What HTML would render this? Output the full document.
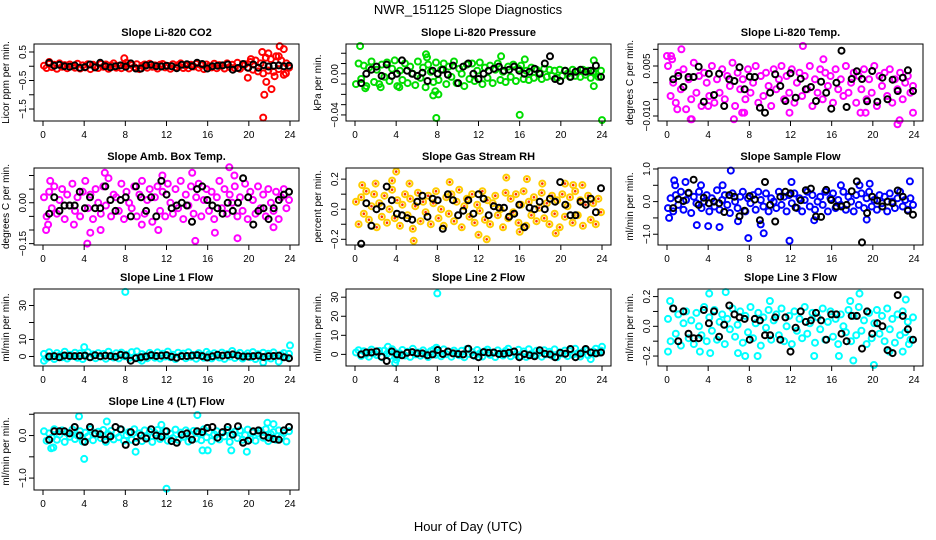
<!DOCTYPE html>
<html><head><meta charset="utf-8">
<style>
html,body{margin:0;padding:0;background:#fff;}
svg{display:block;font-family:"Liberation Sans",sans-serif;}
</style></head>
<body>
<svg id="chart" width="936" height="540" viewBox="0 0 936 540" xmlns="http://www.w3.org/2000/svg">
<text x="468" y="14" font-size="13" text-anchor="middle">NWR_151125  Slope Diagnostics</text>
<text x="468" y="531" font-size="13" text-anchor="middle">Hour of Day (UTC)</text>
</svg>
<script>
const xTicks=[0,4,8,12,16,20,24];
const titles=["Slope Li-820 CO2","Slope Li-820 Pressure","Slope Li-820 Temp.","Slope Amb. Box Temp.","Slope Gas Stream RH","Slope Sample Flow","Slope Line 1 Flow","Slope Line 2 Flow","Slope Line 3 Flow","Slope Line 4 (LT) Flow"];
const yLabels=["Licor ppm per min.","kPa per min.","degrees C per min.","degrees C per min.","percent per min.","ml/min per min.","ml/min per min.","ml/min per min.","ml/min per min.","ml/min per min."];
const yTicks=[[0.5,0,-0.5,-1,-1.5],[0.02,0.01,0,-0.01,-0.02,-0.03,-0.04],[0.01,0.005,0,-0.005,-0.01],[0.1,0.05,0,-0.05,-0.1,-0.15],[0.2,0.1,0,-0.1,-0.2],[1,0.5,0,-0.5,-1],[0,10,20,30],[0,10,20,30],[0.2,0.1,0,-0.1,-0.2],[0.5,0,-0.5,-1]];
const yTickLabels=[{"0.5":"0.5","-0.5":"\u22120.5","-1.5":"\u22121.5"},{"0":"0.00","-0.04":"\u22120.04"},{"0.005":"0.005","-0.01":"\u22120.010"},{"0":"0.00","-0.15":"\u22120.15"},{"0.2":"0.2","0":"0.0","-0.2":"\u22120.2"},{"1":"1.0","0":"0.0","-1":"\u22121.0"},{"0":"0","10":"10","30":"30"},{"0":"0","10":"10","20":"20","30":"30"},{"0.2":"0.2","0":"0.0","-0.2":"\u22120.2"},{"0":"0.0","-1":"\u22121.0"}];
const yLims=[[-1.92,0.78],[-0.0459,0.029],[-0.0115,0.0116],[-0.155,0.1275],[-0.238,0.274],[-1.33,1.03],[-5.6,39.7],[-6.1,34.3],[-0.267,0.251],[-1.28,0.53]];
const colors=["#ff0000","#00dd00","#ff00ff","#ff00ff","#ffcc00","#0000ff","#00ffff","#00ffff","#00ffff","#00ffff"];

const co2Col=[0.02,-0.06,0.08,-0.03,0.05,-0.09,0.1,-0.02,0.04,-0.07,0.06,0.01,-0.05,0.09,-0.08,0.03,-0.04,0.07,-0.1,0.05,0.0,-0.06,0.08,-0.02,0.06,-0.09,0.03,0.1,-0.05,0.02,-0.07,0.05,0.12,-0.08,0.04,-0.03,0.07,-0.1,0.02,0.06,-0.05,0.09,-0.02,0.03,-0.08,0.05,0.08,-0.04,0.01,-0.09,0.07,-0.03,0.04,0.1,-0.06,0.02,-0.07,0.05,-0.01,0.08,-0.05,0.03,-0.1,0.06,0.0,-0.04,0.09,-0.07,0.04,0.02,-0.08,0.1,-0.03,0.05,-0.06,0.12,-0.09,0.03,0.07,-0.05,0.15,-0.12,0.2,-0.18,0.1,-0.25,0.3,-0.15,0.25,-0.2,0.35,-0.1,0.2,-0.3,0.1,-0.05];
const co2OutX=[0.6,7.9,19.9,20.2,21.3,21.4,21.5,21.7,22.2,22.5,23.0,23.4,21.9,22.9,23.6];
const co2OutY=[0.15,0.28,-0.4,0.25,0.5,-1.8,-1.0,-0.55,-0.8,-0.35,0.7,0.6,0.45,0.35,-0.25];
const co2Blk=[0.12,0.02,0.05,0.0,-0.02,0.03,-0.05,-0.03,0.06,-0.04,0.12,0.0,-0.04,0.0,0.03,-0.02,0.1,-0.08,-0.08,0.03,0.05,0.0,-0.01,0.02,0.0,-0.07,0.05,0.07,0.0,0.12,0.08,-0.08,0.0,0.02,0.03,0.06,-0.12,-0.06,0.08,-0.05,0.06,-0.05,0.04,-0.01,0.02,0.03,0.0,0.02];

const presCol=[-0.01,0.01,-0.005,0.008,-0.012,0.006,0.012,-0.008,0.004,-0.01,0.009,-0.003,0.011,-0.007,0.005,0.013,-0.012,0.003,-0.006,0.01,-0.009,0.007,0.0,-0.011,0.012,-0.004,0.006,-0.013,0.009,0.002,-0.008,0.011,-0.006,0.004,0.01,-0.01,0.007,-0.003,0.012,-0.009,0.005,0.0,-0.012,0.009,-0.005,0.01,-0.007,0.003,0.011,-0.01,0.006,-0.004,0.008,-0.009,0.004,0.01,-0.006,0.002,-0.008,0.007,-0.003,0.009,-0.007,0.005,0.008,-0.005,0.003,-0.006,0.006,-0.004,0.004,0.001,-0.005,0.005,-0.003,0.004,-0.002,0.003,-0.004,0.004,-0.002,0.003,0.0,-0.003,0.004,-0.002,0.002,-0.003,0.004,-0.001,0.003,-0.004,0.002,0.0,-0.003,0.003];
const presOutX=[0.5,1.0,2.5,4.3,6.9,7.0,7.6,7.8,7.9,8.1,16.0,16.5,23.2,23.2,24.0,14.2];
const presOutY=[0.027,-0.014,-0.013,-0.013,0.019,0.016,-0.021,-0.017,-0.043,-0.02,-0.04,0.014,0.013,-0.012,-0.045,0.017];
const presBlk=[-0.009,0.0,0.004,0.007,-0.002,0.009,-0.002,0.0,0.013,0.003,0.0,-0.002,0.001,-0.007,0.003,0.0,0.004,-0.001,0.008,-0.009,0.007,0.01,0.0,-0.005,0.0,0.003,0.005,0.007,0.003,0.004,0.007,0.003,0.0,0.002,0.005,0.0,0.01,0.017,-0.005,-0.007,0.003,-0.003,0.002,0.004,0.002,0.003,0.008,-0.003];

const tempCol=[0.005,-0.004,0.0,-0.006,0.003,-0.002,0.004,-0.008,0.001,-0.005,0.006,-0.003,0.002,-0.007,0.003,0.0,-0.004,0.005,-0.006,0.001,-0.003,0.004,-0.005,0.002,-0.001,0.006,-0.007,0.003,-0.002,0.001,-0.005,0.004,-0.003,0.0,0.005,-0.006,0.002,-0.004,0.003,-0.001,-0.007,0.004,-0.002,0.001,0.005,-0.005,0.002,-0.003,0.004,-0.006,0.0,0.003,-0.004,0.002,-0.002,0.005,-0.007,0.001,-0.003,0.004,-0.005,0.003,-0.001,0.002,-0.006,0.004,-0.002,0.001,-0.004,0.005,-0.003,0.0,0.003,-0.006,0.002,-0.002,0.004,-0.005,0.001,-0.003,0.005,-0.007,0.002,-0.001,0.003,-0.004,0.004,-0.006,0.001,-0.002,0.003,-0.005,0.0,0.002,-0.003,-0.001];
const tempOutX=[0.0,0.4,0.5,1.4,1.0,2.3,2.4,4.0,6.5,7.5,13.2,15.2,22.4,22.6,23.9,7.3,11.9,18.8,19.3];
const tempOutY=[0.008,0.008,0.007,0.01,-0.008,-0.011,-0.011,-0.007,-0.011,-0.009,0.011,0.007,-0.0125,-0.0113,-0.009,-0.009,-0.009,-0.009,-0.009];
const tempBlk=[0.001,0.002,-0.0013,0.0017,0.0017,0.0048,-0.0057,0.0027,-0.0037,0.0027,-0.007,0.001,0.0005,0.0046,-0.002,0.0018,0.0017,-0.0075,-0.009,-0.003,0.0025,-0.001,-0.0055,0.0028,-0.0045,0.0012,-0.002,-0.0013,-0.0055,0.0003,-0.003,-0.0078,0.0,0.0096,-0.0073,0.0011,0.0034,0.0011,-0.0056,0.0035,-0.0057,0.0015,-0.005,0.0009,-0.0025,0.0015,0.0037,-0.0025];

const ambCol=[0.02,-0.05,0.04,-0.02,0.06,-0.04,0.01,0.05,-0.06,0.03,-0.01,0.07,-0.03,0.02,-0.05,0.04,0.08,-0.02,0.03,-0.06,0.05,0.0,-0.04,0.06,-0.01,0.09,-0.05,0.03,0.02,-0.03,0.07,-0.06,0.04,0.0,-0.02,0.06,-0.05,0.03,0.08,-0.04,0.01,0.05,-0.07,0.02,0.06,-0.03,0.04,-0.05,0.07,0.0,-0.04,0.05,-0.02,0.08,-0.06,0.03,-0.01,0.06,-0.04,0.02,0.07,-0.05,0.01,0.05,-0.03,0.04,-0.06,0.02,0.08,-0.02,0.05,-0.04,0.03,0.0,0.06,-0.05,0.02,-0.03,0.07,-0.06,0.04,0.01,-0.04,0.06,-0.02,0.03,-0.05,0.05,0.0,-0.03,0.04,-0.06,0.02,0.05,-0.02,0.01];
const ambOutX=[0.3,0.5,0.7,4.3,4.6,6.0,14.5,14.8,16.7,18.1,18.9,18.6,22.4,3.0,9.6,11.2,11.6,5.6];
const ambOutY=[-0.1,-0.08,0.08,-0.15,-0.11,0.11,0.11,-0.14,-0.11,0.13,-0.13,0.1,-0.09,-0.08,-0.08,-0.1,0.1,-0.1];
const ambBlk=[-0.04,0.02,-0.03,-0.01,-0.01,-0.01,0.04,-0.02,0.02,-0.02,-0.02,0.06,0.01,-0.03,0.01,0.02,-0.05,0.06,0.02,-0.03,0.02,-0.05,0.08,0.03,-0.02,-0.01,0.0,-0.01,-0.07,0.05,0.06,0.01,-0.01,-0.02,-0.04,0.0,-0.03,0.0,0.09,0.02,-0.08,-0.03,-0.02,-0.06,-0.02,0.01,0.03,0.04];

const rhCol=[0.05,-0.1,0.08,-0.03,0.12,-0.07,0.02,0.1,-0.12,0.04,-0.05,0.09,-0.09,0.0,0.13,-0.06,0.06,-0.11,0.03,0.1,-0.04,0.07,-0.13,0.02,0.11,-0.08,0.05,-0.02,0.09,-0.1,0.04,0.12,-0.06,0.0,-0.11,0.08,-0.03,0.1,-0.08,0.05,0.13,-0.12,0.02,0.07,-0.05,0.1,-0.09,0.03,-0.01,0.12,-0.07,0.06,-0.1,0.04,0.09,-0.04,0.0,-0.12,0.11,-0.06,0.07,-0.02,0.1,-0.09,0.03,0.12,-0.11,0.05,-0.04,0.08,-0.08,0.01,0.11,-0.06,0.04,-0.1,0.09,-0.03,0.06,-0.12,0.1,-0.05,0.02,0.08,-0.09,0.12,-0.04,0.06,-0.11,0.03,0.09,-0.07,0.04,-0.1,0.07,-0.02];
const rhOutX=[0.7,2.0,3.6,4.0,5.3,5.7,9.2,14.7,16.7,18.2,20.4,21.2,22.1,12.8,12.0,16.0,19.5];
const rhOutY=[0.16,0.17,0.19,0.25,0.17,-0.21,0.18,0.21,0.2,0.17,0.17,0.16,0.16,-0.2,-0.17,-0.15,-0.16];
const rhBlk=[-0.23,0.04,-0.11,0.0,0.02,0.15,0.06,-0.03,-0.04,-0.06,-0.07,0.05,0.09,-0.05,0.07,0.06,-0.13,0.1,0.06,-0.04,-0.01,0.06,-0.03,0.1,0.07,-0.04,0.02,0.01,0.01,-0.05,-0.03,0.03,-0.12,0.01,0.0,0.05,0.0,0.07,0.05,0.18,0.03,-0.04,-0.04,0.05,0.03,0.07,-0.02,0.14];

const sampCol=[-0.2,0.1,-0.3,0.2,-0.1,0.3,-0.25,0.05,0.25,-0.35,0.15,-0.05,0.3,-0.2,0.0,0.2,-0.3,0.1,-0.15,0.35,-0.25,0.05,0.2,-0.1,-0.35,0.25,0.0,-0.2,0.15,0.3,-0.3,0.1,-0.05,0.2,-0.25,0.3,0.05,-0.15,0.25,-0.3,0.1,0.0,-0.2,0.3,-0.1,0.15,-0.3,0.2,-0.05,0.25,-0.2,0.1,-0.3,0.05,0.3,-0.15,0.2,-0.25,0.0,0.15,-0.1,0.3,-0.3,0.1,0.25,-0.2,0.05,-0.1,0.3,-0.25,0.15,0.0,-0.3,0.2,-0.1,0.25,-0.2,0.1,0.3,-0.15,0.05,-0.25,0.2,-0.05,0.15,-0.3,0.25,0.0,-0.2,0.1,0.3,-0.15,0.05,-0.25,0.1,-0.1];
const sampOutX=[0.2,0.7,0.8,1.8,2.9,3.3,4.0,5.1,5.4,6.2,6.9,7.9,9.4,11.9,12.1,14.3,16.9,19.4,19.7,23.6,9.1,18.7];
const sampOutY=[-0.5,0.65,0.5,0.6,-0.72,0.5,-0.75,-0.78,0.5,0.95,-0.6,-1.12,-0.97,-1.2,0.6,-0.57,0.5,-0.55,0.55,0.62,-0.7,0.5];
const sampBlk=[-0.2,0.07,0.02,0.27,0.67,-0.1,0.12,-0.05,0.0,-0.05,-0.32,0.2,0.15,-0.45,-0.28,0.17,0.06,-0.57,0.6,-0.1,-0.61,0.15,0.3,0.25,-0.18,0.04,0.35,0.4,-0.46,-0.47,0.36,0.05,-0.15,-0.15,-0.1,0.32,0.62,-1.25,-0.35,0.15,0.03,-0.15,0.0,-0.05,0.34,0.15,-0.28,-0.4];

const l1Col=[1.5,-1.0,2.5,0.0,-1.5,2.0,0.5,-0.5,2.8,-1.2,1.0,0.2,2.2,-0.8,1.8,-1.5,0.7,2.5,-0.3,1.2,-1.0,2.0,0.0,1.5,-1.3,2.8,0.4,-0.6,1.9,-1.1,2.3,0.1,1.1,-0.9,2.6,-0.4,3.0,-1.4,1.4,0.3,-1.0,2.1,0.6,-0.7,2.4,-1.2,1.6,0.0,2.9,-0.5,1.0,-1.5,2.2,0.4,1.7,-1.0,2.5,-0.2,0.9,-1.3,2.0,0.5,-0.8,2.7,1.2,-1.1,1.9,0.2,-0.6,2.3,-1.4,1.4,0.0,3.2,-0.9,1.0,2.1,-1.2,0.6,1.8,-0.4,2.6,-1.5,1.3,0.0,2.2,-0.8,1.6,-1.2,2.4,0.3,-3.0,1.0,2.0,-0.5,1.5];
const l1OutX=[0.1,4.0,8.0,9.6,21.4,24.0];
const l1OutY=[-2.5,5.5,38,-2.5,-3.5,6.5];
const l1Blk=[0,0.2,-0.5,0.6,0.3,0.2,0.3,0.5,-0.5,0.7,0.1,0.5,0.2,-0.2,1.0,0.6,-2.5,-1.0,-0.5,0.0,0.8,0.3,0.5,0.8,-0.2,-0.8,0.2,0.3,0.5,0.8,0.2,-0.6,0.1,1.0,0.5,0.8,1.2,0.5,0.0,0.0,0.2,0.5,-0.3,0.2,0.3,0.5,-0.5,-1.0];

const l2Col=[1.0,2.2,-0.8,1.6,0.2,-1.2,2.5,0.6,-0.4,1.8,-1.5,2.0,0.3,-0.9,2.7,1.2,-1.1,0.5,2.3,-0.6,1.4,-1.3,2.9,0.0,1.0,-0.7,2.1,0.4,-1.4,1.7,2.4,-0.2,0.8,-1.0,2.6,0.1,1.3,-1.2,2.0,0.7,-0.5,1.9,-1.5,2.8,0.2,1.1,-0.8,2.3,0.5,-1.1,1.6,2.5,-0.3,0.9,-1.4,2.1,0.6,-0.6,1.8,3.0,-1.0,1.2,0.0,2.4,-0.9,1.5,-1.3,2.7,0.3,-0.4,1.9,0.8,-1.2,2.2,0.1,1.4,-0.7,2.6,-1.5,1.0,0.4,2.0,-0.9,1.7,-0.2,2.9,0.6,-1.1,1.3,2.1,-0.5,-2.5,1.5,3.0,0.8,2.0];
const l2OutX=[8.0,3.9,4.0,3.2,24.0,7.9];
const l2OutY=[32,-4.5,-2.8,4.0,4.0,3.5];
const l2Blk=[0,1,1,1.5,-1.2,-3.5,1.5,0.0,-0.5,0.8,1.2,0.5,0.5,-0.5,0.0,2.3,0.2,1.5,0.5,0.2,0.0,3.0,-0.5,-1.5,1.2,0.8,1.0,0.2,0.3,0.8,1.5,-1.5,0.2,-0.5,-1.0,2.2,0.3,0.0,-1.5,0.8,0.3,2.8,-1.5,0.4,2.8,1.0,0.5,1.0];

const l3Col=[0.05,-0.1,0.12,-0.05,0.08,-0.13,0.02,0.1,-0.08,0.04,-0.12,0.09,0.0,-0.06,0.13,-0.1,0.06,-0.03,0.11,-0.09,0.03,0.08,-0.12,0.05,-0.02,0.12,-0.07,0.01,0.1,-0.11,0.07,-0.04,0.13,-0.08,0.02,0.09,-0.13,0.06,-0.01,0.11,-0.09,0.04,0.08,-0.06,0.12,-0.1,0.0,0.07,-0.12,0.1,-0.03,0.05,-0.08,0.13,-0.05,0.02,0.09,-0.11,0.06,-0.02,0.12,-0.09,0.03,0.1,-0.07,0.05,-0.12,0.08,0.0,-0.04,0.11,-0.1,0.07,-0.06,0.13,-0.03,0.04,-0.12,0.09,-0.08,0.02,0.11,-0.05,0.07,-0.1,0.12,-0.02,0.05,-0.11,0.08,-0.06,0.1,-0.04,0.03,-0.09,0.06];
const l3OutX=[0.1,0.3,4.1,3.2,5.7,7.6,10.0,8.8,14.3,16.7,18.1,17.8,20.1,18.7,21.6,22.9,23.5,4.2,6.9,23.2];
const l3OutY=[-0.17,0.17,0.22,-0.17,0.23,-0.2,0.17,-0.2,-0.2,-0.2,-0.23,0.17,-0.26,0.22,-0.17,-0.17,-0.12,-0.18,-0.18,0.18];
const l3Blk=[0.12,-0.1,0.1,-0.05,-0.08,-0.08,0.11,0.02,0.1,-0.07,0.01,0.14,0.08,0.06,0.05,-0.09,0.05,0.04,-0.06,-0.06,0.06,-0.09,0.06,-0.17,-0.01,0.1,0.03,0.04,0.09,0.04,-0.09,0.08,0.08,-0.05,-0.1,0.07,0.07,-0.15,0.1,-0.05,0.02,0.0,-0.16,-0.18,0.21,0.07,-0.02,-0.09];

const l4Col=[0.1,-0.12,0.05,-0.05,0.15,-0.1,0.02,0.12,-0.15,0.06,-0.03,0.14,-0.08,0.0,0.1,-0.14,0.07,-0.02,0.15,-0.11,0.04,0.09,-0.06,0.13,-0.15,0.03,0.11,-0.09,0.06,-0.04,0.14,-0.12,0.01,0.08,-0.1,0.15,-0.05,0.05,-0.13,0.12,-0.02,0.09,-0.15,0.06,0.13,-0.08,0.0,0.1,-0.12,0.04,-0.06,0.14,-0.1,0.07,-0.03,0.12,-0.14,0.02,0.11,-0.07,0.05,-0.11,0.15,-0.04,0.08,-0.13,0.03,0.1,-0.09,0.06,-0.02,0.13,-0.15,0.04,0.09,-0.06,0.12,-0.1,0.01,0.14,-0.08,0.07,-0.12,0.05,0.11,-0.05,0.15,-0.13,0.03,0.08,-0.1,0.12,-0.04,0.06,-0.14,0.1];
const l4OutX=[3.5,4.0,6.2,1.0,9.0,12.0,15.0,15.5,16.0,18.3,19.8,21.8,22.4,0.8,11.5];
const l4OutY=[0.45,-0.55,0.33,-0.28,-0.38,-1.25,0.48,-0.35,-0.35,-0.35,-0.38,0.3,0.27,-0.3,0.25];
const l4Blk=[-0.1,0.1,0.1,0.1,0.05,0.2,0.0,-0.15,0.2,0.05,0.03,-0.1,-0.02,0.2,0.15,-0.22,0.08,-0.15,0.0,-0.07,0.15,0.0,-0.03,0.1,-0.13,-0.17,0.02,0.05,-0.1,0.1,0.08,0.18,0.2,-0.05,0.08,0.2,0.02,0.22,-0.17,-0.12,0.1,0.12,0.0,-0.05,-0.08,-0.1,0.12,0.2];

const colSeries=[co2Col,presCol,tempCol,ambCol,rhCol,sampCol,l1Col,l2Col,l3Col,l4Col];
const outXs=[co2OutX,presOutX,tempOutX,ambOutX,rhOutX,sampOutX,l1OutX,l2OutX,l3OutX,l4OutX];
const outYs=[co2OutY,presOutY,tempOutY,ambOutY,rhOutY,sampOutY,l1OutY,l2OutY,l3OutY,l4OutY];
const blkSeries=[co2Blk,presBlk,tempBlk,ambBlk,rhBlk,sampBlk,l1Blk,l2Blk,l3Blk,l4Blk];

const NS="http://www.w3.org/2000/svg";
const svg=document.getElementById('chart');
function mk(tag,attrs,parent){const e=document.createElementNS(NS,tag);for(const k in attrs)e.setAttribute(k,attrs[k]);(parent||svg).appendChild(e);return e;}
const colLeft=[34,346,658], rowTop=[44,168,289,413], W=265, H=77;

function pt(g,cx,cy,color,isRH){
  const c=mk('circle',{cx:cx.toFixed(1),cy:cy.toFixed(1),r:3,fill:'none',stroke:color,'stroke-width':2},g);
  
  
  if(isRH){const d=mk('circle',{cx:cx.toFixed(1),cy:cy.toFixed(1),r:1.3,fill:'#ff3300'},g);
    
    }
}

for(let p=0;p<10;p++){
  const L=colLeft[p%3], T=rowTop[Math.floor(p/3)];
  const g=mk('g',{});
  
  
  const [y0,y1]=yLims[p];
  const xs=v=>L+9+v/24*(W-18);
  const ys=v=>T+H-(v-y0)/(y1-y0)*H;
  // title
  const t=mk('text',{x:L+W/2,y:T-8,'font-size':11,'font-weight':'bold','text-anchor':'middle'},g);
  t.textContent=titles[p];
  
  
  // y label
  const yl=mk('text',{transform:`translate(${L-25},${T+H/2}) rotate(-90)`,'font-size':10,'text-anchor':'middle'},g);
  yl.textContent=yLabels[p];
  
  
  // colored points
  const cs=colSeries[p];
  cs.forEach((v,i)=>{const h=0.1+i*23.8/(cs.length-1);pt(g,xs(h),ys(v),colors[p],p===4);});
  outXs[p].forEach((h,i)=>pt(g,xs(h),ys(outYs[p][i]),colors[p],p===4));
  // black points
  const bs=blkSeries[p];
  bs.forEach((v,i)=>{const h=0.6+i*23.3/(bs.length-1);pt(g,xs(h),ys(v),'#000',false);});
  // box
  const b=mk('rect',{x:L,y:T,width:W,height:H,fill:'none',stroke:'#000','stroke-width':1},g);
  
  
  // x axis
  mk('line',{x1:xs(0),x2:xs(24),y1:T+H,y2:T+H,stroke:'#000'},g);
  xTicks.forEach(v=>{
    mk('line',{x1:xs(v),x2:xs(v),y1:T+H,y2:T+H+5,stroke:'#000'},g);
    const tx=mk('text',{x:xs(v),y:T+H+17,'font-size':10,'text-anchor':'middle'},g);
    tx.textContent=v;
    
    
  });
  // y axis
  const yt=yTicks[p];
  mk('line',{x1:L,x2:L,y1:ys(Math.max(...yt)),y2:ys(Math.min(...yt)),stroke:'#000'},g);
  yt.forEach(v=>{
    mk('line',{x1:L-5,x2:L,y1:ys(v),y2:ys(v),stroke:'#000'},g);
    const lab=yTickLabels[p][String(v)];
    if(lab!==undefined){
      const ty=mk('text',{transform:`translate(${L-8},${ys(v)}) rotate(-90)`,'font-size':10,'text-anchor':'middle'},g);
      ty.textContent=lab;
      
      
    }
  });
}
</script>
</body></html>
